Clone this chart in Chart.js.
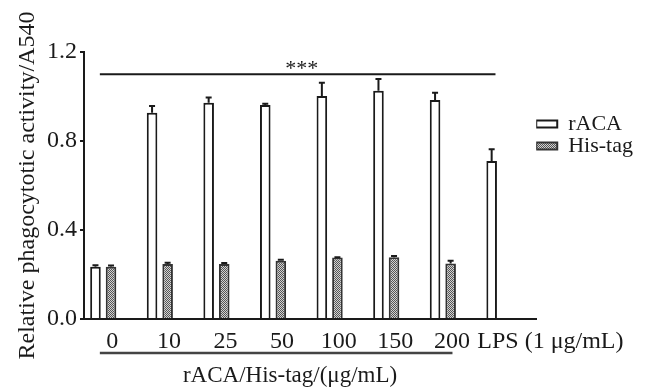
<!DOCTYPE html>
<html>
<head>
<meta charset="utf-8">
<script src="https://cdn.jsdelivr.net/npm/chart.js@4.4.0/dist/chart.umd.min.js"></script>
<style>
  html, body { margin: 0; padding: 0; background: #fff; }
  #wrap { width: 646px; height: 387px; }
</style>
</head>
<body>
<div id="wrap"><canvas id="chartOne"></canvas></div>
<script>
// values
const categories = ['0', '10', '25', '50', '100', '150', '200', 'LPS (1 μg/mL)'];
const racaValues = [0.235, 0.927, 0.972, 0.962, 1.002, 1.026, 0.984, 0.710];
const racaErrors = [0.007, 0.030, 0.024, 0.005, 0.060, 0.053, 0.033, 0.053];
const histagValues = [0.235, 0.247, 0.247, 0.262, 0.276, 0.277, 0.250, null];
const histagErrors = [0.006, 0.006, 0.005, 0.004, 0.002, 0.006, 0.012, null];
const yTicks = [0, 0.4, 0.8, 1.2];
const seriesNames = ['rACA', 'His-tag'];
const yTitle = 'Relative phagocytotic activity/A540';
const xTitle = 'rACA/His-tag/(μg/mL)';
const sigText = '***';

const serif = '"Liberation Serif", "Times New Roman", serif';
const ink = '#1a1a1a';
Chart.defaults.font.family = serif;
Chart.defaults.color = ink;

function dotPattern() {
  const c = document.createElement('canvas');
  c.width = 2; c.height = 2;
  const g = c.getContext('2d');
  g.fillStyle = '#d2d2d2';
  g.fillRect(0, 0, 2, 2);
  g.fillStyle = '#555';
  g.fillRect(0, 0, 1, 1);
  g.fillRect(1, 1, 1, 1);
  return g.createPattern(c, 'repeat');
}

const toPoints = vals => vals.map((v, i) => ({ x: i, y: v }));

// error bars (upper half only, as in the figure)
const errorBars = {
  id: 'errorBars',
  afterDatasetsDraw(chart) {
    const ctx = chart.ctx;
    const y = chart.scales.y;
    const sets = [[0, racaValues, racaErrors], [1, histagValues, histagErrors]];
    ctx.save();
    ctx.strokeStyle = ink;
    ctx.lineWidth = 2;
    sets.forEach(([d, vals, errs]) => {
      chart.getDatasetMeta(d).data.forEach((bar, i) => {
        if (vals[i] == null) return;
        const top = y.getPixelForValue(vals[i]);
        const end = y.getPixelForValue(vals[i] + errs[i]);
        ctx.beginPath();
        ctx.moveTo(bar.x, top);
        ctx.lineTo(bar.x, end);
        ctx.moveTo(bar.x - 3, end);
        ctx.lineTo(bar.x + 3, end);
        ctx.stroke();
      });
    });
    ctx.restore();
  }
};

// significance line, bracket under the doses, x title
const extras = {
  id: 'extras',
  afterDraw(chart) {
    const ctx = chart.ctx;
    const x = chart.scales.x;
    const y = chart.scales.y;
    ctx.save();
    ctx.strokeStyle = ink;
    ctx.fillStyle = ink;
    ctx.lineWidth = 2;

    const sigY = y.getPixelForValue(1.1);
    const x0 = x.getPixelForValue(-0.06);
    const x1 = x.getPixelForValue(6.93);
    ctx.beginPath();
    ctx.moveTo(x0, sigY);
    ctx.lineTo(x1, sigY);
    ctx.stroke();
    ctx.font = '22px ' + serif;
    ctx.textAlign = 'center';
    ctx.textBaseline = 'alphabetic';
    ctx.fillText(sigText, (x0 + x1) / 2 + 4, sigY + 1);

    const brY = x.top + 34;
    ctx.lineWidth = 2.5;
    ctx.strokeStyle = '#444';
    ctx.beginPath();
    ctx.moveTo(x.getPixelForValue(-0.06), brY);
    ctx.lineTo(x.getPixelForValue(6.17), brY);
    ctx.stroke();

    ctx.font = '23px ' + serif;
    ctx.fillText(xTitle, x.getPixelForValue(3.3), 382);
    ctx.restore();
  }
};

const chart1 = document.getElementById('chartOne');

new Chart(chart1, {
  type: 'bar',
  data: {
    datasets: [{
      label: seriesNames[0],
      data: toPoints(racaValues),
      backgroundColor: '#ffffff',
      borderColor: ink,
      borderWidth: 2,
      categoryPercentage: 0.55,
      barPercentage: 0.68
    }, {
      label: seriesNames[1],
      data: toPoints(histagValues),
      backgroundColor: dotPattern(),
      borderColor: '#333',
      borderWidth: 2,
      categoryPercentage: 0.55,
      barPercentage: 0.68
    }]
  },
  options: {
    responsive: true,
    maintainAspectRatio: false,
    animation: false,
    layout: { padding: { left: 0, right: 3, top: 52, bottom: 0 } },
    scales: {
      x: {
        type: 'linear',
        offset: false,
        min: -0.34,
        max: 7.65,
        bounds: 'data',
        afterBuildTicks: scale => {
          scale.ticks = categories.map((c, i) => ({ value: i === categories.length - 1 ? i + 0.9 : i + 0.16 }));
        },
        afterFit: scale => {
          scale.height = 68;
          scale.paddingLeft = 0;
          scale.paddingRight = 0;
        },
        grid: { display: false, drawTicks: false },
        border: { display: true, color: ink, width: 2 },
        ticks: {
          autoSkip: false,
          maxRotation: 0,
          padding: 8,
          color: ink,
          font: { size: 24 },
          callback: (v, i) => categories[i]
        }
      },
      y: {
        min: 0,
        max: 1.2,
        afterBuildTicks: scale => { scale.ticks = yTicks.map(v => ({ value: v })); },
        afterFit: scale => { scale.width = 84; },
        grid: { drawOnChartArea: false, drawTicks: true, tickLength: 4, color: ink, lineWidth: 2 },
        border: { display: true, color: ink, width: 2 },
        ticks: {
          padding: 3,
          color: ink,
          font: { size: 24 },
          callback: v => Number(v).toFixed(1)
        },
        title: {
          display: true,
          text: yTitle,
          color: ink,
          font: { size: 24 },
          padding: { top: 13, bottom: 0 }
        }
      }
    },
    plugins: {
      tooltip: { enabled: false },
      legend: {
        position: 'right',
        align: 'start',
        fullSize: false,
        title: { display: true, text: '', font: { size: 20 }, padding: { top: 37, bottom: 0 } },
        labels: {
          boxWidth: 21,
          boxHeight: 7,
          padding: 0,
          color: ink,
          font: { size: 22 }
        }
      }
    }
  },
  plugins: [errorBars, extras]
});
</script>
</body>
</html>
